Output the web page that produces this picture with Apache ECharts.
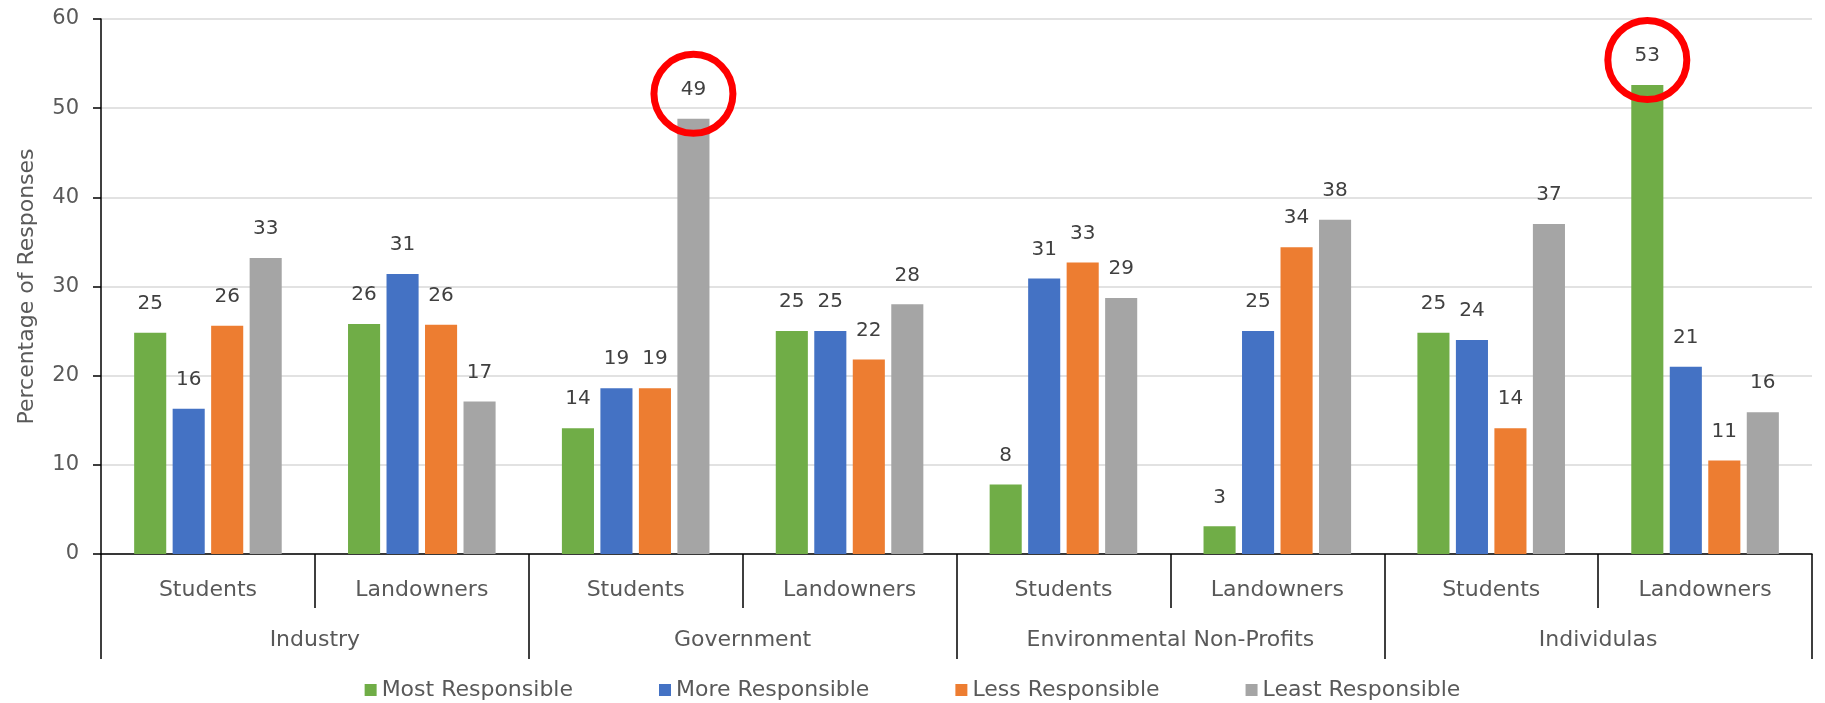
<!DOCTYPE html>
<html>
<head>
<meta charset="utf-8">
<script src="https://cdn.jsdelivr.net/npm/echarts@6/dist/echarts.min.js"></script>
<style>
  html, body { margin: 0; padding: 0; background: #ffffff; }
  #chart { width: 1825px; height: 703px; }
</style>
</head>
<body>
<div id="chart"></div>
<script>
// ---- data ----
const subCategories = ['Students', 'Landowners', 'Students', 'Landowners', 'Students', 'Landowners', 'Students', 'Landowners'];
const groups = ['Industry', 'Government', 'Environmental Non-Profits', 'Individulas'];
const seriesNames = ['Most Responsible', 'More Responsible', 'Less Responsible', 'Least Responsible'];
const mostResponsible  = [24.8, 25.8, 14.1, 25.0, 7.8, 3.1, 24.8, 52.6];
const moreResponsible  = [16.3, 31.4, 18.6, 25.0, 30.9, 25.0, 24.0, 21.0];
const lessResponsible  = [25.6, 25.7, 18.6, 21.8, 32.7, 34.4, 14.1, 10.5];
const leastResponsible = [33.2, 17.1, 48.8, 28.0, 28.7, 37.5, 37.0, 15.9];
const yTicks = [0, 10, 20, 30, 40, 50, 60];
// highlighted (circled) values: [series index, category index]
const highlights = [[3, 2], [0, 7]];

const colors = ['#70ad47', '#4472c4', '#ed7d31', '#a5a5a5'];
const valuesBySeries = [mostResponsible, moreResponsible, lessResponsible, leastResponsible];
const FONT = 'DejaVu Sans';

const chart = echarts.init(document.getElementById('chart'), null, { renderer: 'canvas' });

const series = valuesBySeries.map((vals, si) => {
  const marks = highlights.filter(h => h[0] === si).map(h => ({ coord: [h[1], vals[h[1]]] }));
  const s = {
    name: seriesNames[si],
    type: 'bar',
    xAxisIndex: 0,
    data: vals,
    itemStyle: { color: colors[si] },
    barGap: '20%',
    barCategoryGap: '31%',
    label: {
      show: true,
      position: 'top',
      distance: 19,
      color: '#404040',
      fontSize: 20,
      fontFamily: FONT,
      formatter: p => Math.round(p.value)
    },
    emphasis: { disabled: true }
  };
  if (marks.length) {
    s.markPoint = {
      silent: true,
      symbol: 'circle',
      symbolSize: 79,
      symbolOffset: [0, -25],
      itemStyle: { color: 'rgba(0,0,0,0)', borderColor: '#ff0000', borderWidth: 7 },
      label: { show: false },
      emphasis: { disabled: true },
      data: marks
    };
  }
  return s;
});

const option = {
  animation: false,
  backgroundColor: '#ffffff',
  textStyle: { fontFamily: FONT },
  grid: { left: 101, right: 13, top: 19, bottom: 149, containLabel: false },
  legend: {
    data: seriesNames,
    left: 'center',
    top: 674,
    icon: 'rect',
    itemWidth: 12,
    itemHeight: 12,
    itemGap: 86,
    textStyle: { color: '#595959', fontSize: 22, fontFamily: FONT },
    selectedMode: false
  },
  xAxis: [
    {
      type: 'category',
      position: 'bottom',
      data: subCategories,
      axisLine: { show: true, lineStyle: { color: '#000000', width: 1.5 } },
      axisTick: { show: true, interval: 0, alignWithLabel: false, length: 54, lineStyle: { color: '#000000', width: 1.5 } },
      axisLabel: { interval: 0, margin: 25, color: '#595959', fontSize: 22, fontFamily: FONT },
      splitLine: { show: false }
    },
    {
      type: 'category',
      position: 'bottom',
      data: groups,
      axisLine: { show: false },
      axisTick: { show: true, interval: 0, alignWithLabel: false, length: 105, lineStyle: { color: '#000000', width: 1.5 } },
      axisLabel: { interval: 0, margin: 75, color: '#595959', fontSize: 22, fontFamily: FONT },
      splitLine: { show: false }
    }
  ],
  yAxis: {
    type: 'value',
    min: yTicks[0],
    max: yTicks[yTicks.length - 1],
    interval: yTicks[1] - yTicks[0],
    name: 'Percentage of Responses',
    nameLocation: 'middle',
    nameGap: 63,
    nameTextStyle: { color: '#595959', fontSize: 22, fontFamily: FONT },
    axisLine: { show: true, lineStyle: { color: '#000000', width: 1.5 } },
    axisTick: { show: true, length: 8, lineStyle: { color: '#000000', width: 1.5 } },
    axisLabel: { margin: 22, color: '#595959', fontSize: 21, fontFamily: FONT },
    splitLine: { show: true, lineStyle: { color: '#d9d9d9', width: 1.5 } }
  },
  series: series
};

chart.setOption(option);
</script>
</body>
</html>
